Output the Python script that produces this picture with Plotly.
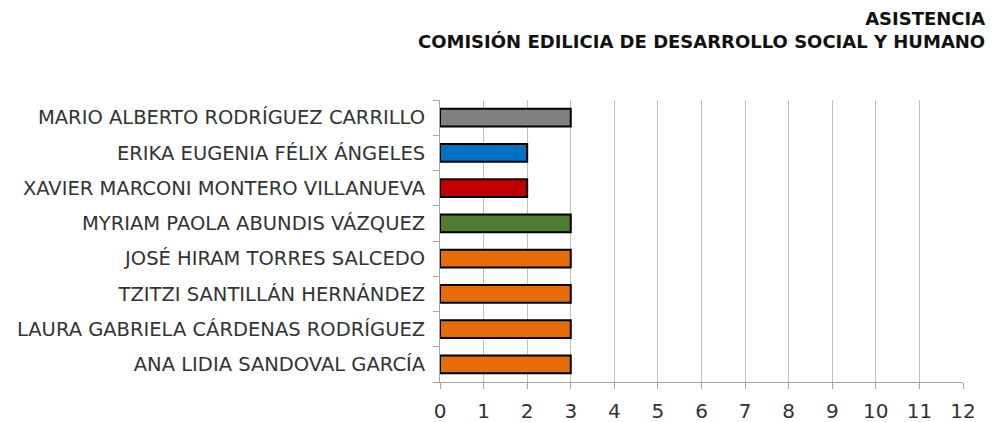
import plotly.graph_objects as go

nombres = [
    "ANA LIDIA SANDOVAL GARCÍA",
    "LAURA GABRIELA CÁRDENAS RODRÍGUEZ",
    "TZITZI SANTILLÁN HERNÁNDEZ",
    "JOSÉ HIRAM TORRES SALCEDO",
    "MYRIAM PAOLA ABUNDIS VÁZQUEZ",
    "XAVIER MARCONI MONTERO VILLANUEVA",
    "ERIKA EUGENIA FÉLIX ÁNGELES",
    "MARIO ALBERTO RODRÍGUEZ CARRILLO",
]
asistencias = [3, 3, 3, 3, 3, 2, 2, 3]
colores = ["#E46C0A", "#E46C0A", "#E46C0A", "#E46C0A",
           "#4F7B35", "#C00000", "#0070C0", "#808080"]
ticks_x = list(range(0, 13))

FONT = "DejaVu Sans"

fig = go.Figure(go.Bar(
    x=asistencias, y=nombres, orientation="h",
    marker=dict(color=colores, line=dict(color="#000000", width=2)),
    width=0.5,
))

# the page body has an 8px margin, so the figure is a little smaller
fig.update_layout(
    width=987, height=414,
    margin=dict(l=432, r=32, t=92, b=40),
    paper_bgcolor="white", plot_bgcolor="white",
    font=dict(family=FONT, color="#222222"),
    showlegend=False,
    annotations=[dict(
        text="<b>ASISTENCIA</b><br><b>COMISIÓN EDILICIA DE DESARROLLO SOCIAL Y HUMANO</b>",
        xref="paper", yref="paper", x=1.046, y=1.333,
        xanchor="right", yanchor="top", align="right", showarrow=False,
        font=dict(family=FONT, size=18, color="#111111"),
    )],
)
fig.update_xaxes(
    range=[0, 12], tickvals=ticks_x, ticktext=[str(t) for t in ticks_x],
    showgrid=True, gridcolor="#BFBFBF", gridwidth=1,
    showline=True, linecolor="#A6A6A6", linewidth=1,
    ticks="outside", tickcolor="#A6A6A6", ticklen=6,
    ticklabelstandoff=5, automargin=False,
    tickfont=dict(size=20, color="#333333"), zeroline=False,
)
fig.update_yaxes(
    showline=True, linecolor="#A6A6A6", linewidth=1,
    ticks="outside", tickson="boundaries", tickcolor="#A6A6A6", ticklen=6,
    ticklabelstandoff=10, automargin=False,
    tickfont=dict(size=19.5, color="#333333"), showgrid=False,
)

fig.write_html("out.html")
